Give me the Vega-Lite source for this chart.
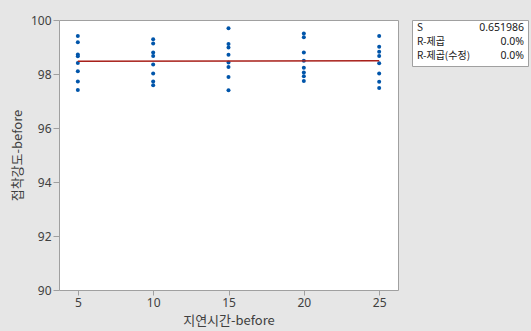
{
  "$schema": "https://vega.github.io/schema/vega-lite/v6.json",
  "background": "#e6e6e6",
  "padding": {"left": 10, "top": 13, "right": 4, "bottom": 4},
  "spacing": 12,
  "config": {
    "view": {"stroke": "#a0a0a0", "fill": "white", "strokeWidth": 1},
    "font": "Noto Sans",
    "axis": {
      "grid": false,
      "domain": false,
      "tickColor": "#a0a0a0",
      "tickSize": 6,
      "labelColor": "#404040",
      "labelFontSize": 12,
      "labelPadding": 2,
      "titleColor": "#404040",
      "titleFont": "Noto Sans CJK KR",
      "titleFontSize": 13,
      "titleFontWeight": "normal"
    }
  },
  "hconcat": [
    {
      "width": 339,
      "height": 270,
      "data": {
        "values": [
          {"x": 5, "y": 99.41}, {"x": 5, "y": 99.18}, {"x": 5, "y": 98.72}, {"x": 5, "y": 98.66},
          {"x": 5, "y": 98.41}, {"x": 5, "y": 98.10}, {"x": 5, "y": 97.72}, {"x": 5, "y": 97.41},
          {"x": 10, "y": 99.29}, {"x": 10, "y": 99.13}, {"x": 10, "y": 98.80}, {"x": 10, "y": 98.67},
          {"x": 10, "y": 98.35}, {"x": 10, "y": 98.02}, {"x": 10, "y": 97.72}, {"x": 10, "y": 97.58},
          {"x": 15, "y": 99.69}, {"x": 15, "y": 99.11}, {"x": 15, "y": 98.98}, {"x": 15, "y": 98.71},
          {"x": 15, "y": 98.43}, {"x": 15, "y": 98.26}, {"x": 15, "y": 97.89}, {"x": 15, "y": 97.40},
          {"x": 20, "y": 99.50}, {"x": 20, "y": 99.36}, {"x": 20, "y": 98.80}, {"x": 20, "y": 98.49},
          {"x": 20, "y": 98.23}, {"x": 20, "y": 98.06}, {"x": 20, "y": 97.92}, {"x": 20, "y": 97.74},
          {"x": 25, "y": 99.41}, {"x": 25, "y": 99.01}, {"x": 25, "y": 98.82}, {"x": 25, "y": 98.67},
          {"x": 25, "y": 98.40}, {"x": 25, "y": 98.02}, {"x": 25, "y": 97.71}, {"x": 25, "y": 97.48}
        ]
      },
      "encoding": {
        "x": {
          "field": "x", "type": "quantitative",
          "scale": {"domain": [3.75, 26.25], "nice": false, "zero": false},
          "axis": {"values": [5, 10, 15, 20, 25], "title": "지연시간-before", "tickSize": 5, "titlePadding": 6}
        },
        "y": {
          "field": "y", "type": "quantitative",
          "scale": {"domain": [90, 100], "nice": false, "zero": false},
          "axis": {"values": [90, 92, 94, 96, 98, 100], "title": "접착강도-before", "titlePadding": 6}
        }
      },
      "layer": [
        {
          "mark": {"type": "circle", "size": 16, "opacity": 1, "color": "#0055aa"}
        },
        {
          "transform": [{"regression": "y", "on": "x", "extent": [5, 25]}],
          "mark": {"type": "line", "color": "#a8201a", "strokeWidth": 1.6}
        }
      ]
    },
    {
      "width": 116,
      "height": 46,
      "data": {
        "values": [
          {"row": 1, "label": "S", "value": "0.651986"},
          {"row": 2, "label": "R-제곱", "value": "0.0%"},
          {"row": 3, "label": "R-제곱(수정)", "value": "0.0%"}
        ]
      },
      "encoding": {
        "y": {
          "field": "row", "type": "quantitative",
          "scale": {"domain": [0.469, 3.703], "nice": false, "zero": false, "reverse": true},
          "axis": null
        }
      },
      "layer": [
        {
          "mark": {"type": "text", "align": "left", "baseline": "middle", "dx": 5, "font": "Noto Sans CJK KR", "fontSize": 10, "color": "#202020"},
          "encoding": {
            "x": {"datum": 0, "type": "quantitative", "scale": {"domain": [0, 1], "nice": false}, "axis": null},
            "text": {"field": "label"}
          }
        },
        {
          "mark": {"type": "text", "align": "right", "baseline": "middle", "dx": -4, "font": "Noto Sans", "fontSize": 10.5, "color": "#202020"},
          "encoding": {
            "x": {"datum": 1, "type": "quantitative", "scale": {"domain": [0, 1], "nice": false}, "axis": null},
            "text": {"field": "value"}
          }
        }
      ]
    }
  ]
}
